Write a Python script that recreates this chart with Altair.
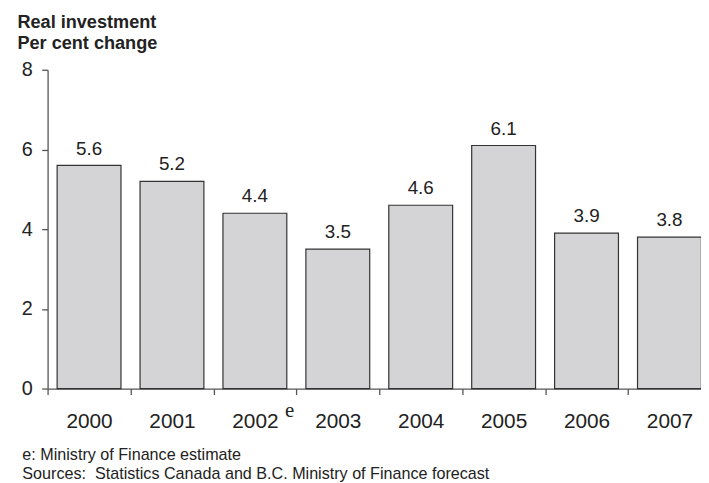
import altair as alt
import pandas as pd

years = ["2000", "2001", "2002", "2003", "2004", "2005", "2006", "2007"]
values = [5.6, 5.2, 4.4, 3.5, 4.6, 6.1, 3.9, 3.8]
value_labels = ["5.6", "5.2", "4.4", "3.5", "4.6", "6.1", "3.9", "3.8"]
y_ticks = [0, 2, 4, 6, 8]
title_lines = ["Real investment", "Per cent change"]
footnote_lines = [
    "e: Ministry of Finance estimate",
    "Sources:\u00a0 Statistics Canada and B.C. Ministry of Finance forecast",
]
estimate_years = ["2002"]
estimate_marks = ["e"]

df = pd.DataFrame({"year": years, "value": values, "label": value_labels})
note_df = pd.DataFrame({"year": estimate_years, "note": estimate_marks, "zero": [0]})

FONT = "Liberation Sans"
TEXT = "#222222"
AXIS = "#555555"

x_enc = alt.X(
    "year:N",
    sort=years,
    scale=alt.Scale(paddingInner=0, paddingOuter=0),
    axis=alt.Axis(
        title=footnote_lines,
        titleX=-26,
        titleY=72,
        titleAlign="left",
        titleAnchor="start",
        titleBaseline="alphabetic",
        titleFontSize=16.3,
        titleFontWeight="normal",
        titleLineHeight=19,
        titleFont=FONT,
        titleColor=TEXT,
        labelAngle=0,
        labelFont=FONT,
        labelFontSize=21,
        labelColor=TEXT,
        labelBaseline="alphabetic",
        labelPadding=33,
        tickBand="extent",
        tickSize=6,
        tickColor=AXIS,
        domainColor=AXIS,
        domainWidth=1.3,
        tickWidth=1.3,
    ),
)

y_enc = alt.Y(
    "value:Q",
    scale=alt.Scale(domain=[0, 8], nice=False),
    axis=alt.Axis(
        values=y_ticks,
        title=title_lines,
        titleAngle=0,
        titleX=-31,
        titleY=-43,
        titleAlign="left",
        titleBaseline="alphabetic",
        titleFont=FONT,
        titleFontSize=18.3,
        titleFontWeight="bold",
        titleLineHeight=22,
        titleColor=TEXT,
        labelFont=FONT,
        labelFontSize=20,
        labelColor=TEXT,
        labelPadding=9.5,
        tickSize=6,
        tickColor=AXIS,
        domainColor=AXIS,
        domainWidth=1.3,
        tickWidth=1.3,
        grid=False,
    ),
)

base = alt.Chart(df).encode(x=x_enc, y=y_enc)

bars = base.mark_bar(
    width=alt.RelativeBandSize(0.77),
    color="#d4d4d6",
    stroke="#333333",
    strokeWidth=1.2,
)

labels = base.mark_text(
    dy=-11, baseline="alphabetic", font=FONT, fontSize=19, color=TEXT
).encode(text="label:N")

note = alt.Chart(note_df).mark_text(
    dx=35, dy=29, baseline="alphabetic", font="Liberation Serif", fontSize=21, color=TEXT
).encode(
    x=alt.X("year:N", sort=years),
    y=alt.Y("zero:Q"),
    text="note:N",
)

chart = (
    alt.layer(bars, labels, note)
    .properties(
        width=670,
        height=322,
        background="white",
        autosize=alt.AutoSizeParams(type="none"),
        padding={"left": 40, "top": 60, "right": -10, "bottom": 93},
    )
    .configure_view(strokeWidth=0, stroke="transparent")
)

chart.save("out.html", embed_options={"renderer": "svg", "actions": False})
